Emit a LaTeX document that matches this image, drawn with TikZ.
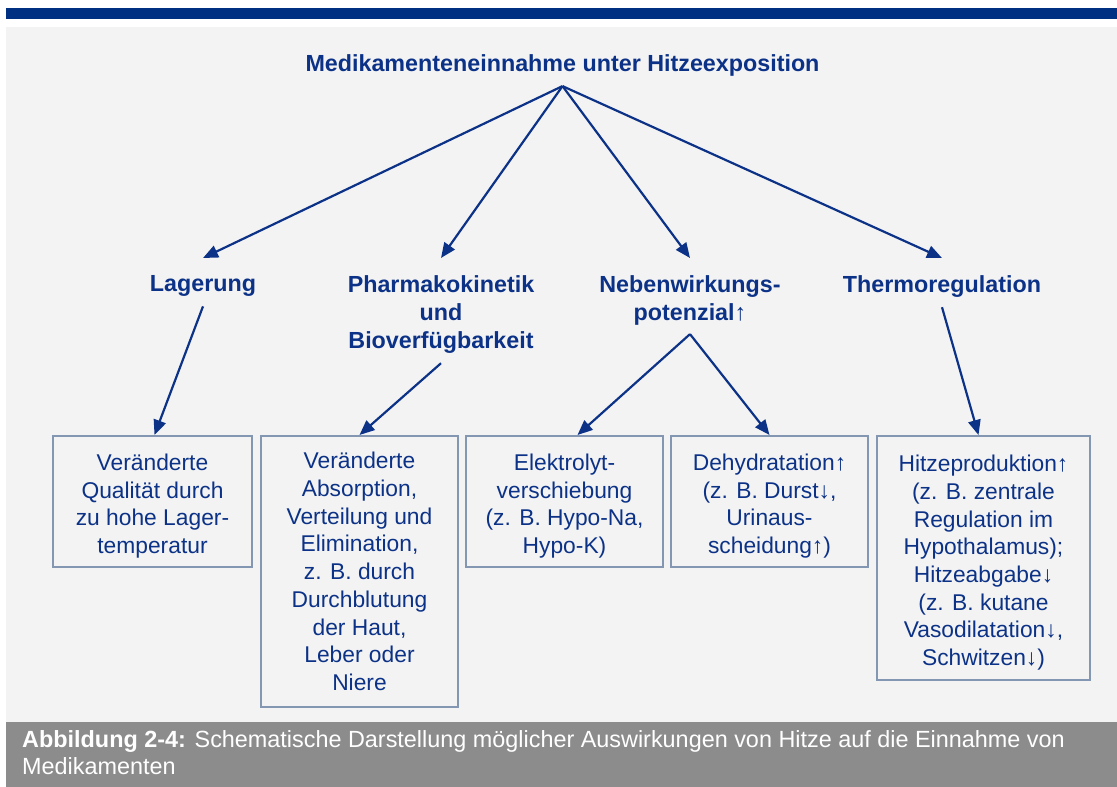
\documentclass[tikz,border=0pt]{standalone}
\usepackage{fontspec}
\setmainfont{Liberation Sans}
\usetikzlibrary{arrows.meta}
\definecolor{barblue}{RGB}{0,48,130}
\definecolor{inkblue}{RGB}{12,50,135}
\definecolor{boxedge}{RGB}{132,151,178}
\definecolor{panel}{RGB}{243,243,243}
\definecolor{capgray}{RGB}{140,140,140}
% strut that pushes the first line of a short box down a little
\newcommand\firstline{\rule{0pt}{26pt}}
\tikzset{
  heading/.style={font=\bfseries\fontsize{23.3}{28}\selectfont, text=inkblue,
    align=center, inner sep=0pt, anchor=north},
  infobox/.style={draw=boxedge, line width=2pt, fill=panel,
    font=\fontsize{22.8}{27.7}\selectfont, text=inkblue, align=center, inner sep=0pt},
  link/.style={draw=inkblue, line width=2.2pt, -{Triangle[length=15pt,width=12.5pt]}},
  caption/.style={font=\fontsize{23.4}{27}\selectfont, text=white, align=left,
    inner sep=0pt, anchor=north west},
}
\begin{document}
\begin{tikzpicture}[x=1pt,y=-1pt]
\useasboundingbox (0,0) rectangle (1117,787);
\fill[white] (0,0) rectangle (1117,787);
% frame: top bar, panel, caption strip
\fill[barblue] (6,8) rectangle (1117,19);
\fill[panel] (6,27) rectangle (1117,722);
\fill[capgray] (6,722) rectangle (1117,787);

% headings
\node[heading] (title) at (562.5,54) {Medikamenteneinnahme unter Hitzeexposition};
\node[heading] (lager) at (203,275) {Lagerung};
\node[heading] (pharma) at (441,275) {Pharmakokinetik\\und\\Bioverfügbarkeit};
\node[heading] (neben) at (690,275) {Nebenwirkungs-\\potenzial↑};
\node[heading] (thermo) at (942,275) {Thermoregulation};

% boxes
\node[infobox, minimum width=199pt, minimum height=131pt] (b1) at (152.5,501.5)
  {\firstline Veränderte\\Qualität durch\\zu hohe Lager-\\temperatur};
\node[infobox, minimum width=197pt, minimum height=271pt] (b2) at (359.5,571.5)
  {Veränderte\\Absorption,\\Verteilung und\\Elimination,\\z. B. durch\\Durchblutung\\der Haut,\\Leber oder\\Niere};
\node[infobox, minimum width=197pt, minimum height=131pt] (b3) at (564.5,501.5)
  {\firstline Elektrolyt-\\verschiebung\\(z. B. Hypo-Na,\\Hypo-K)};
\node[infobox, minimum width=197pt, minimum height=131pt] (b4) at (769.5,501.5)
  {\firstline Dehydratation↑\\(z. B. Durst↓,\\Urinaus-\\scheidung↑)};
\node[infobox, minimum width=213pt, minimum height=244pt] (b5) at (983.5,558)
  {\firstline Hitzeproduktion↑\\(z. B. zentrale\\Regulation im\\Hypothalamus);\\Hitzeabgabe↓\\(z. B. kutane\\Vasodilatation↓,\\Schwitzen↓)};

% connectors
\coordinate (apex) at ([yshift=-10pt]title.south);
\draw[link] (apex) -- ([yshift=17pt]lager.north);
\draw[link] (apex) -- ([yshift=17pt]pharma.north);
\draw[link] (apex) -- ([yshift=17pt]neben.north);
\draw[link] (apex) -- ([yshift=17pt]thermo.north);
\draw[link] ([yshift=-10pt]lager.south) -- ([xshift=2pt]b1.north);
\draw[link] ([yshift=-10pt]pharma.south) -- (b2.north);
\coordinate (split) at ([yshift=-9pt]neben.south);
\draw[link] (split) -- ([xshift=13pt]b3.north);
\draw[link] (split) -- (b4.north);
\draw[link] ([yshift=-10pt]thermo.south) -- ([xshift=-5pt]b5.north);

% caption
\node[caption] (cap) at (22,730)
  {\textbf{Abbildung 2-4:} Schematische Darstellung möglicher Auswirkungen von Hitze auf die Einnahme von\\Medikamenten};
\end{tikzpicture}
\end{document}
